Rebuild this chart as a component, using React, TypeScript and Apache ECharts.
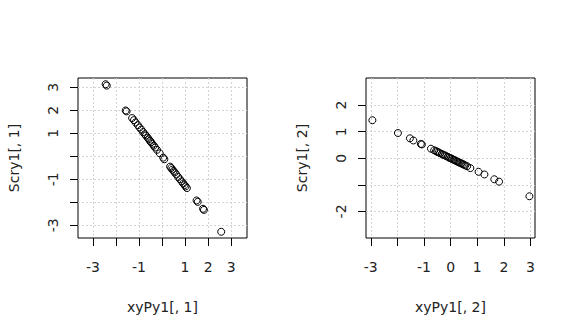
import React, { useEffect, useRef } from "react";
import * as echarts from "echarts";

// Panel 1: xyPy1[, 1] vs Scry1[, 1]
const x1 = [-2.45, -2.40, -1.58, -1.54, -1.30, -1.22, -1.15, -1.05, -0.98, -0.90, -0.82, -0.75, -0.70, -0.62, -0.58, -0.52, -0.48, -0.42, -0.36, -0.30, -0.22, -0.10, 0.05, 0.10, 0.35, 0.40, 0.45, 0.50, 0.55, 0.62, 0.70, 0.78, 0.85, 0.92, 0.98, 1.02, 1.08, 1.50, 1.55, 1.78, 1.82, 2.57];
const y1 = [3.13, 3.07, 1.99, 1.95, 1.66, 1.57, 1.47, 1.35, 1.25, 1.16, 1.05, 0.96, 0.90, 0.80, 0.74, 0.67, 0.61, 0.54, 0.46, 0.38, 0.28, 0.13, -0.06, -0.13, -0.45, -0.51, -0.58, -0.64, -0.70, -0.79, -0.90, -1.00, -1.09, -1.18, -1.25, -1.31, -1.38, -1.92, -1.98, -2.28, -2.33, -3.28];

// Panel 2: xyPy1[, 2] vs Scry1[, 2]
const x2 = [-2.94, -1.98, -1.53, -1.40, -1.12, -1.08, -0.74, -0.62, -0.55, -0.50, -0.45, -0.40, -0.33, -0.28, -0.22, -0.16, -0.10, -0.05, 0.00, 0.05, 0.10, 0.15, 0.20, 0.25, 0.30, 0.35, 0.40, 0.45, 0.50, 0.55, 0.62, 0.74, 1.05, 1.27, 1.64, 1.82, 2.96];
const y2 = [1.43, 0.95, 0.75, 0.67, 0.54, 0.52, 0.36, 0.30, 0.27, 0.24, 0.22, 0.19, 0.16, 0.13, 0.11, 0.08, 0.05, 0.02, 0.00, -0.02, -0.05, -0.07, -0.10, -0.12, -0.15, -0.17, -0.19, -0.22, -0.24, -0.27, -0.30, -0.37, -0.51, -0.61, -0.79, -0.88, -1.43];

// Ticks and tick labels
const ticks1X = [-3, -2, -1, 0, 1, 2, 3];
const labels1X = [-3, -1, 1, 2, 3];
const ticks1Y = [-3, -2, -1, 0, 1, 2, 3];
const labels1Y = [-3, -1, 1, 2, 3];
const ticks2X = [-3, -2, -1, 0, 1, 2, 3];
const labels2X = [-3, -1, 0, 1, 2, 3];
const ticks2Y = [-2, -1, 0, 1, 2];
const labels2Y = [-2, 0, 1, 2];

const names = {
  x1: "xyPy1[, 1]",
  y1: "Scry1[, 1]",
  x2: "xyPy1[, 2]",
  y2: "Scry1[, 2]",
};

const FONT = "'DejaVu Sans', sans-serif";
const TXT = "#222";

function mkAxis(
  gi: number,
  min: number,
  max: number,
  ticks: number[],
  labels: number[],
  name: string,
  vertical: boolean
) {
  return {
    type: "value",
    gridIndex: gi,
    min,
    max,
    name,
    nameLocation: "middle",
    nameGap: vertical ? 57 : 62,
    nameTextStyle: { fontSize: 14, color: TXT, fontFamily: FONT },
    axisLine: { show: false, onZero: false },
    axisTick: {
      show: true,
      inside: false,
      length: 8,
      customValues: ticks,
      lineStyle: { color: "#000", width: 1 },
    },
    axisLabel: {
      show: true,
      customValues: labels,
      margin: vertical ? 18 : 22,
      rotate: vertical ? 90 : 0,
      fontSize: 14,
      color: TXT,
      fontFamily: FONT,
      formatter: (v: number) => String(v),
    },
    splitLine: {
      show: true,
      lineStyle: { color: "#d3d3d3", width: 1, type: [2, 2] },
    },
  };
}

function mkSeries(xs: number[], ys: number[], gi: number) {
  return {
    type: "scatter",
    xAxisIndex: gi,
    yAxisIndex: gi,
    symbol: "circle",
    symbolSize: 7,
    silent: true,
    itemStyle: { color: "rgba(0,0,0,0)", borderColor: "#000", borderWidth: 1, opacity: 1 },
    emphasis: { disabled: true },
    data: xs.map((x, i) => [x, ys[i]]),
  };
}

export default function App() {
  const ref = useRef<HTMLDivElement>(null);
  useEffect(() => {
    if (!ref.current) return;
    const chart = echarts.init(ref.current, undefined, { renderer: "svg" });
    chart.setOption({
      animation: false,
      backgroundColor: "#fff",
      grid: [
        { left: 78, top: 78, width: 169, height: 160, show: true, borderColor: "#000", borderWidth: 1, backgroundColor: "transparent", containLabel: false, outerBoundsMode: "none" },
        { left: 366, top: 78, width: 169, height: 160, show: true, borderColor: "#000", borderWidth: 1, backgroundColor: "transparent", containLabel: false, outerBoundsMode: "none" },
      ],
      xAxis: [
        mkAxis(0, -3.65, 3.69, ticks1X, labels1X, names.x1, false),
        mkAxis(1, -3.18, 3.17, ticks2X, labels2X, names.x2, false),
      ],
      yAxis: [
        mkAxis(0, -3.55, 3.40, ticks1Y, labels1Y, names.y1, true),
        mkAxis(1, -3.0, 3.02, ticks2Y, labels2Y, names.y2, true),
      ],
      series: [mkSeries(x1, y1, 0), mkSeries(x2, y2, 1)],
    });
    return () => chart.dispose();
  }, []);
  return (
    <div
      ref={ref}
      style={{ position: "absolute", left: 0, top: 0, width: 576, height: 336 }}
    />
  );
}
